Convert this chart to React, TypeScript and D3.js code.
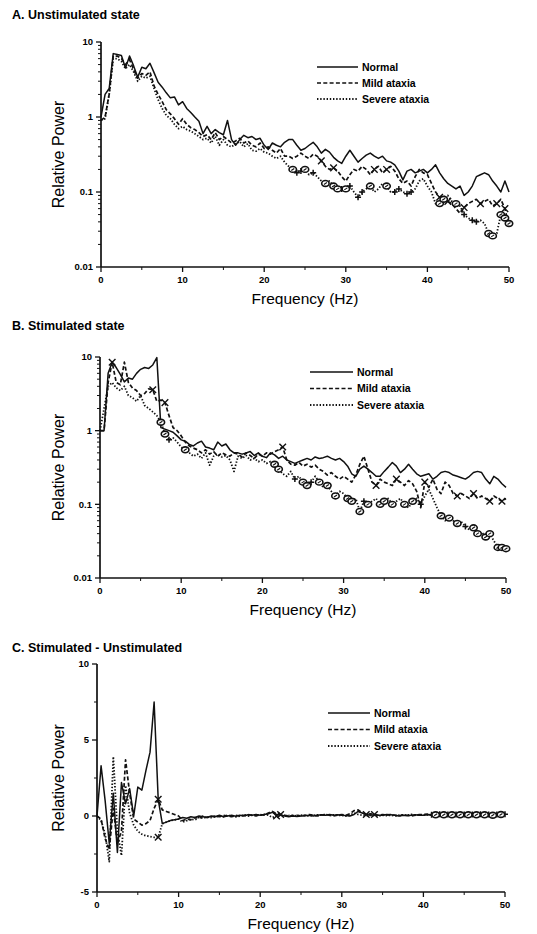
import React from 'react';
import * as d3 from 'd3';

// ---------- data ----------
const freq: number[] = d3.range(0, 50.01, 0.5);
const seriesNames = ['Normal', 'Mild ataxia', 'Severe ataxia'];
const logTickLabels = ['0.01', '0.1', '1', '10'];
const linTickLabels = ['-5', '0', '5', '10'];
const xTickLabels = ['0', '10', '20', '30', '40', '50'];

const unstimNormal = [
  1.0, 2.0, 2.4, 7.0, 6.8, 6.6, 4.5, 6.5, 4.8, 3.4,
  4.6, 4.4, 5.2, 3.9, 2.9, 2.5, 2.1, 1.8, 1.85, 1.45,
  1.6, 1.3, 1.15, 1.0, 0.88, 0.6, 0.75, 0.6, 0.68, 0.62,
  0.58, 0.9, 0.5, 0.42, 0.5, 0.57, 0.53, 0.55, 0.5, 0.52,
  0.42, 0.37, 0.45, 0.42, 0.4, 0.46, 0.5, 0.5, 0.42, 0.36,
  0.38, 0.42, 0.46, 0.4, 0.33, 0.37, 0.34, 0.29, 0.26, 0.24,
  0.3, 0.36, 0.3, 0.25, 0.28, 0.31, 0.33, 0.3, 0.28, 0.3,
  0.26, 0.25, 0.23, 0.19, 0.145, 0.19, 0.2, 0.18, 0.19, 0.2,
  0.18, 0.2, 0.23, 0.18, 0.15, 0.13, 0.12, 0.11, 0.12, 0.09,
  0.1, 0.12, 0.16, 0.17, 0.18, 0.17, 0.14, 0.12, 0.1, 0.14,
  0.1,
];
const unstimMild = [
  0.9, 1.0, 2.0, 6.5, 6.5, 6.0, 5.0, 5.8, 4.3, 3.3,
  3.8, 3.6, 4.0, 2.6, 2.0, 1.6, 1.25, 1.1, 0.95, 0.8,
  0.95, 0.8, 0.72, 0.68, 0.62, 0.55, 0.58, 0.5, 0.62, 0.5,
  0.55, 0.5, 0.45, 0.48, 0.52, 0.45, 0.48, 0.42, 0.4, 0.45,
  0.38, 0.4, 0.36, 0.33, 0.38, 0.3, 0.3, 0.28, 0.3, 0.33,
  0.3, 0.28, 0.32, 0.3, 0.26, 0.22, 0.2, 0.21, 0.19, 0.16,
  0.14, 0.17, 0.2, 0.19, 0.22, 0.2, 0.17, 0.2, 0.22, 0.18,
  0.2, 0.22, 0.19, 0.15, 0.13, 0.14, 0.12, 0.16, 0.2, 0.18,
  0.17, 0.13, 0.1, 0.085, 0.09, 0.075, 0.07, 0.06, 0.052, 0.062,
  0.07, 0.075, 0.08, 0.07, 0.075, 0.08, 0.065, 0.07, 0.08, 0.06,
  0.035,
];
const unstimSevere = [
  0.9, 0.95, 2.0, 6.0, 6.0, 5.5, 4.4, 5.0, 4.0, 3.0,
  3.5, 3.3, 3.5, 2.4, 1.7, 1.3, 1.05, 0.95, 0.8, 0.7,
  0.75, 0.68, 0.65, 0.6, 0.55, 0.5, 0.52, 0.45, 0.55, 0.42,
  0.5, 0.42, 0.4, 0.44, 0.47, 0.4, 0.44, 0.36, 0.35, 0.38,
  0.34, 0.33, 0.3, 0.28, 0.3, 0.25, 0.22, 0.2, 0.18, 0.19,
  0.2, 0.17, 0.18, 0.16, 0.14, 0.13, 0.14, 0.12, 0.11, 0.11,
  0.11, 0.12, 0.1, 0.085, 0.1, 0.11, 0.12, 0.1, 0.11, 0.13,
  0.12, 0.1, 0.1, 0.11, 0.1, 0.095, 0.1, 0.11, 0.14, 0.15,
  0.12, 0.1, 0.07, 0.07, 0.08, 0.09, 0.075, 0.07, 0.065, 0.05,
  0.045, 0.042, 0.04, 0.042, 0.038, 0.028, 0.026, 0.028, 0.05, 0.045,
  0.038,
];

const stimNormal = [
  1.0, 1.0, 6.0, 8.5, 7.2, 5.8, 4.6, 5.2, 5.0, 6.0,
  6.8, 7.2, 7.0, 7.8, 9.8, 1.1, 1.05, 1.0, 0.95, 0.85,
  0.75, 0.72, 0.65, 0.62, 0.68, 0.72, 0.6, 0.58, 0.55, 0.7,
  0.62, 0.66, 0.55, 0.5, 0.5, 0.48, 0.5, 0.52, 0.46, 0.5,
  0.45, 0.43, 0.5, 0.47, 0.42, 0.45, 0.4, 0.38, 0.36, 0.38,
  0.4, 0.42, 0.4, 0.44, 0.42, 0.43, 0.45, 0.42, 0.4, 0.42,
  0.38, 0.33, 0.26, 0.24, 0.3, 0.33, 0.3, 0.27, 0.24, 0.24,
  0.28, 0.32, 0.37, 0.33, 0.27, 0.3, 0.35, 0.3, 0.26, 0.24,
  0.25, 0.26, 0.22, 0.24, 0.27, 0.28, 0.27, 0.25, 0.24, 0.23,
  0.22, 0.24, 0.27, 0.28, 0.27, 0.22, 0.19, 0.24, 0.22, 0.19,
  0.17,
];
const stimMild = [
  1.0, 1.0, 4.5, 8.5, 4.5, 4.2, 8.5, 4.5, 3.8, 3.5,
  3.0, 3.2, 3.7, 3.6, 2.5, 2.6, 2.4, 1.6, 1.1, 1.0,
  0.85, 0.7, 0.62, 0.58, 0.55, 0.5, 0.55, 0.48, 0.52, 0.45,
  0.5, 0.47, 0.45, 0.5, 0.48, 0.44, 0.5, 0.46, 0.42, 0.48,
  0.45, 0.5, 0.48, 0.52, 0.55, 0.6, 0.4, 0.35, 0.34, 0.37,
  0.33, 0.35, 0.32, 0.34, 0.3, 0.28, 0.25, 0.27, 0.24, 0.22,
  0.24, 0.22, 0.2, 0.25, 0.35, 0.45, 0.3, 0.2, 0.18, 0.22,
  0.2, 0.19, 0.18, 0.22, 0.2, 0.18, 0.21, 0.19, 0.15, 0.09,
  0.2, 0.17, 0.22, 0.16, 0.14, 0.2, 0.18, 0.14, 0.13, 0.14,
  0.13, 0.12, 0.14, 0.12, 0.13, 0.12, 0.11, 0.13, 0.12, 0.11,
  0.12,
];
const stimSevere = [
  1.0, 2.0, 4.0, 4.5, 3.8, 3.5, 4.0, 3.0, 2.8, 2.5,
  3.0, 2.2, 2.0, 1.8, 1.6, 1.3, 0.9, 0.75, 0.8, 0.7,
  0.6, 0.55, 0.5, 0.45, 0.48, 0.42, 0.5, 0.34, 0.45, 0.48,
  0.44, 0.46, 0.4, 0.28, 0.45, 0.42, 0.46, 0.4, 0.42, 0.38,
  0.4, 0.36, 0.38, 0.35, 0.3, 0.26, 0.24, 0.28, 0.22, 0.24,
  0.2, 0.18, 0.2, 0.24, 0.2, 0.17, 0.18, 0.15, 0.13, 0.15,
  0.14, 0.12, 0.11, 0.12, 0.08, 0.11, 0.1, 0.11, 0.12, 0.1,
  0.11, 0.12, 0.1, 0.11, 0.12, 0.1, 0.09, 0.11, 0.12, 0.1,
  0.13, 0.16, 0.12, 0.09, 0.07, 0.06, 0.065, 0.06, 0.055, 0.058,
  0.05, 0.045, 0.048, 0.04, 0.042, 0.036, 0.04, 0.032, 0.026, 0.026,
  0.025,
];

const diffNormal = [
  0, 3.3, 1.0, -1.8, 1.5, -2.4, 2.2, 0.8, 1.8, 0.0,
  1.9, 1.7, 3.0, 4.2, 7.5, 1.1, -0.5, -0.4, -0.3, -0.25,
  -0.2, -0.1, -0.15, -0.05, -0.1, 0.0, -0.05, -0.1, 0.0, -0.05,
  0.05, -0.05, 0.0, 0.05, -0.02, 0.05, 0.0, 0.08, 0.05, 0.1,
  0.05, 0.1, 0.15, 0.25, 0.1, 0.05, 0.0, -0.05, 0.0, -0.03,
  0.0, 0.02, 0.05, 0.0, 0.05, 0.08, 0.05, 0.1, 0.05, 0.08,
  0.05, 0.03, 0.0, 0.1, 0.3, 0.2, 0.1, 0.05, 0.08, 0.05,
  0.05, 0.1, 0.08, 0.05, 0.0, 0.05, 0.02, 0.05, 0.08, 0.05,
  0.05, 0.08, 0.1, 0.08, 0.1, 0.12, 0.1, 0.12, 0.1, 0.1,
  0.12, 0.1, 0.12, 0.1, 0.08, 0.1, 0.12, 0.1, 0.08, 0.1,
  0.1,
];
const diffMild = [
  0, -0.2, -1.5, -2.2, 0.5, -1.8, -1.0, 3.7, 1.5, -0.2,
  -0.4, -0.6, -0.5, -0.3, 0.5, 1.1, 0.4, 0.3, 0.2, 0.1,
  0.0, -0.3, -0.2, -0.25, -0.1, -0.15, 0.0, -0.1, -0.05, 0.0,
  -0.05, 0.05, 0.0, -0.05, 0.05, 0.0, 0.05, 0.1, 0.05, 0.0,
  0.1, 0.05, 0.2, 0.3, 0.15, 0.1, 0.05, 0.0, 0.02, 0.05,
  0.0, 0.05, 0.1, 0.05, 0.0, 0.05, 0.1, 0.05, 0.0, 0.05,
  0.1, 0.05, 0.15, 0.35, 0.4, 0.2, 0.1, 0.15, 0.1, 0.05,
  0.1, 0.05, 0.1, 0.05, 0.0, 0.08, 0.05, 0.0, 0.05, 0.1,
  0.1, 0.12, 0.08, 0.1, 0.12, 0.1, 0.1, 0.12, 0.1, 0.08,
  0.1, 0.12, 0.1, 0.1, 0.12, 0.1, 0.1, 0.12, 0.1, 0.1,
  0.12,
];
const diffSevere = [
  0, -0.3, -1.2, -3.0, 3.9, -1.0, -2.6, 2.0, 0.2, -0.6,
  -1.0, -1.2, -1.3, -1.35, -1.4, -1.4, -0.5, -0.4, -0.3, -0.25,
  -0.2, -0.4, -0.3, -0.2, -0.25, -0.1, -0.15, -0.05, -0.1, -0.05,
  0.0, -0.05, 0.05, 0.0, -0.05, 0.0, 0.05, 0.0, 0.05, 0.08,
  0.05, 0.1, 0.05, -0.1, 0.0, 0.05, 0.0, 0.03, 0.05, 0.0,
  0.05, 0.03, 0.0, 0.05, 0.08, 0.05, 0.1, 0.05, 0.08, 0.05,
  0.05, 0.0, 0.05, 0.2, 0.1, 0.05, 0.0, 0.05, 0.03, 0.0,
  0.05, 0.03, 0.05, 0.0, 0.05, 0.08, 0.05, 0.1, 0.05, 0.08,
  0.05, 0.08, 0.05, 0.08, 0.1, 0.08, 0.05, 0.08, 0.1, 0.08,
  0.05, 0.08, 0.1, 0.08, 0.1, 0.08, 0.1, 0.05, 0.08, 0.1,
  0.08,
];

// marker frequencies (significance symbols)
const unstimMildX = [27, 28.5, 33.5, 35, 41.5, 42.5, 44.5, 46.5, 48.5, 49.5];
const unstimSeverePlus = [24, 24.5, 26, 29.5, 30.5, 31.5, 32, 36, 36.5, 37.5, 38, 44.5, 45.5, 46];
const unstimSevereCircle = [23.5, 25, 27.5, 28.5, 29, 30, 33, 35, 41.5, 42, 43.5, 47.5, 48, 49, 49.5, 50];
const stimMildX = [1.5, 6.5, 8, 22.5, 34, 36.5, 40, 44, 46, 48, 49.5];
const stimSeverePlus = [8.5, 24, 26, 32.5, 39.5, 45];
const stimSevereCircle = [7.5, 8, 10.5, 21.5, 22, 25, 25.5, 27, 28, 29, 30.5, 31, 32, 33, 34.5, 35, 36, 37.5, 38.5, 42, 43, 44, 46, 46.5, 47.5, 48, 49, 49.5, 50];
const diffMildX = [7.5, 22.5, 33, 34];
const diffSevereX = [7.5, 22];
const diffMildPlus = [41, 42, 43, 44, 45, 46, 47, 48, 49, 50];
const diffSevereCircle = [41.5, 42.5, 43.5, 44.5, 45.5, 46.5, 47.5, 48.5, 49.5];

// ---------- drawing ----------
const FONT = "'Liberation Sans', Arial, Helvetica, sans-serif";
const styles = [
  { dash: undefined as string | undefined, width: 1.5 },
  { dash: '4 2.3', width: 1.7 },
  { dash: '1.4 1.8', width: 1.8 },
];

type PanelProps = {
  title: string;
  titleY: number;
  x0: number; x1: number; yTop: number; yBot: number;
  log: boolean;
  series: number[][];
  legendX: number; legendY: number; legendGap: number; legendLen: number;
  markers: { s: number; kind: 'x' | '+' | 'o'; f: number[] }[];
};

function Marker({ kind, x, y }: { kind: string; x: number; y: number }) {
  if (kind === 'x') {
    const s = 3.3;
    return <path d={`M${x - s},${y - s}L${x + s},${y + s}M${x - s},${y + s}L${x + s},${y - s}`} stroke="#111" strokeWidth={1.4} />;
  }
  if (kind === '+') {
    const s = 3;
    return <path d={`M${x - s},${y}L${x + s},${y}M${x},${y - s}L${x},${y + s}`} stroke="#111" strokeWidth={1.5} />;
  }
  return (
    <g>
      <ellipse cx={x} cy={y} rx={3.7} ry={2.9} fill="#fff" stroke="#111" strokeWidth={1.6} />
      <path d={`M${x - 1.5},${y + 1}L${x + 1.5},${y - 1}`} stroke="#111" strokeWidth={1.1} />
    </g>
  );
}

function Panel(p: PanelProps) {
  const x = d3.scaleLinear().domain([0, 50]).range([p.x0, p.x1]);
  const y: any = p.log
    ? d3.scaleLog().domain([0.01, 10]).range([p.yBot, p.yTop])
    : d3.scaleLinear().domain([-5, 10]).range([p.yBot, p.yTop]);
  const line = d3.line<number>().x((_, i) => x(freq[i])).y((v) => y(v));
  const yMajor: number[] = p.log ? [0.01, 0.1, 1, 10] : [-5, 0, 5, 10];
  const yLabels = p.log ? logTickLabels : linTickLabels;
  const yMinor: number[] = p.log
    ? (y.ticks() as number[]).filter((t) => !yMajor.some((m) => Math.abs(m - t) < 1e-9))
    : [-2.5, 2.5, 7.5];
  const xMajor = [0, 10, 20, 30, 40, 50];
  const xMinor = [5, 15, 25, 35, 45];
  const tickFont = { fontFamily: FONT, fontSize: 9.5, fontWeight: 700 } as const;
  const midY = (p.yTop + p.yBot) / 2;
  return (
    <g>
      <text x={12} y={p.titleY} style={{ fontFamily: FONT, fontSize: 12.5, fontWeight: 700 }}>{p.title}</text>
      {/* axes */}
      <line x1={p.x0} x2={p.x0} y1={p.yTop} y2={p.yBot} stroke="#111" strokeWidth={1.7} />
      <line x1={p.x0} x2={p.x1} y1={p.yBot} y2={p.yBot} stroke="#111" strokeWidth={1.7} />
      {yMajor.map((t, i) => (
        <g key={'ym' + i}>
          <line x1={p.x0 - 5} x2={p.x0} y1={y(t)} y2={y(t)} stroke="#111" strokeWidth={1.3} />
          <text x={p.x0 - 8} y={y(t) + 3.4} textAnchor="end" style={tickFont}>{yLabels[i]}</text>
        </g>
      ))}
      {yMinor.map((t, i) => (
        <line key={'yn' + i} x1={p.x0 - 3} x2={p.x0} y1={y(t)} y2={y(t)} stroke="#111" strokeWidth={1} />
      ))}
      {xMajor.map((t, i) => (
        <g key={'xm' + i}>
          <line x1={x(t)} x2={x(t)} y1={p.yBot} y2={p.yBot + 5} stroke="#111" strokeWidth={1.3} />
          <text x={x(t)} y={p.yBot + 16} textAnchor="middle" style={tickFont}>{xTickLabels[i]}</text>
        </g>
      ))}
      {xMinor.map((t, i) => (
        <line key={'xn' + i} x1={x(t)} x2={x(t)} y1={p.yBot} y2={p.yBot + 3} stroke="#111" strokeWidth={1} />
      ))}
      <text x={(p.x0 + p.x1) / 2} y={p.yBot + 37} textAnchor="middle" style={{ fontFamily: FONT, fontSize: 15.5 }}>Frequency (Hz)</text>
      <text transform={`translate(64,${midY}) rotate(-90)`} textAnchor="middle" style={{ fontFamily: FONT, fontSize: 16 }}>Relative Power</text>
      {/* series */}
      {p.series.map((s, i) => (
        <path key={'s' + i} d={line(s) || ''} fill="none" stroke="#111" strokeWidth={styles[i].width}
          strokeDasharray={styles[i].dash} strokeLinejoin="round" />
      ))}
      {p.markers.map((m, mi) =>
        m.f.map((f, j) => {
          const idx = Math.round(f * 2);
          return <Marker key={`mk${mi}-${j}`} kind={m.kind} x={x(f)} y={y(p.series[m.s][idx])} />;
        })
      )}
      {/* legend */}
      {seriesNames.map((n, i) => {
        const ly = p.legendY + i * p.legendGap;
        return (
          <g key={'lg' + i}>
            <line x1={p.legendX} x2={p.legendX + p.legendLen} y1={ly} y2={ly} stroke="#111"
              strokeWidth={styles[i].width} strokeDasharray={styles[i].dash} />
            <text x={p.legendX + p.legendLen + 4} y={ly + 3.5} style={{ fontFamily: FONT, fontSize: 10.5, fontWeight: 700 }}>{n}</text>
          </g>
        );
      })}
    </g>
  );
}

export default function App() {
  return (
    <svg width={537} height={934} style={{ position: 'absolute', left: 0, top: 0, background: '#fff' }}>
      <rect width={537} height={934} fill="#fff" />
      <Panel title="A. Unstimulated state" titleY={19} x0={101} x1={509} yTop={42} yBot={267} log
        series={[unstimNormal, unstimMild, unstimSevere]}
        legendX={317} legendY={67} legendGap={16} legendLen={41}
        markers={[
          { s: 1, kind: 'x', f: unstimMildX },
          { s: 2, kind: '+', f: unstimSeverePlus },
          { s: 2, kind: 'o', f: unstimSevereCircle },
        ]} />
      <Panel title="B. Stimulated state" titleY={330} x0={100} x1={506} yTop={357} yBot={578} log
        series={[stimNormal, stimMild, stimSevere]}
        legendX={310} legendY={372} legendGap={16.5} legendLen={43}
        markers={[
          { s: 1, kind: 'x', f: stimMildX },
          { s: 2, kind: '+', f: stimSeverePlus },
          { s: 2, kind: 'o', f: stimSevereCircle },
        ]} />
      <Panel title="C. Stimulated - Unstimulated" titleY={652} x0={97} x1={505} yTop={664} yBot={892} log={false}
        series={[diffNormal, diffMild, diffSevere]}
        legendX={328} legendY={713} legendGap={16.5} legendLen={42}
        markers={[
          { s: 1, kind: 'x', f: diffMildX },
          { s: 2, kind: 'x', f: diffSevereX },
          { s: 1, kind: '+', f: diffMildPlus },
          { s: 2, kind: 'o', f: diffSevereCircle },
        ]} />
    </svg>
  );
}
